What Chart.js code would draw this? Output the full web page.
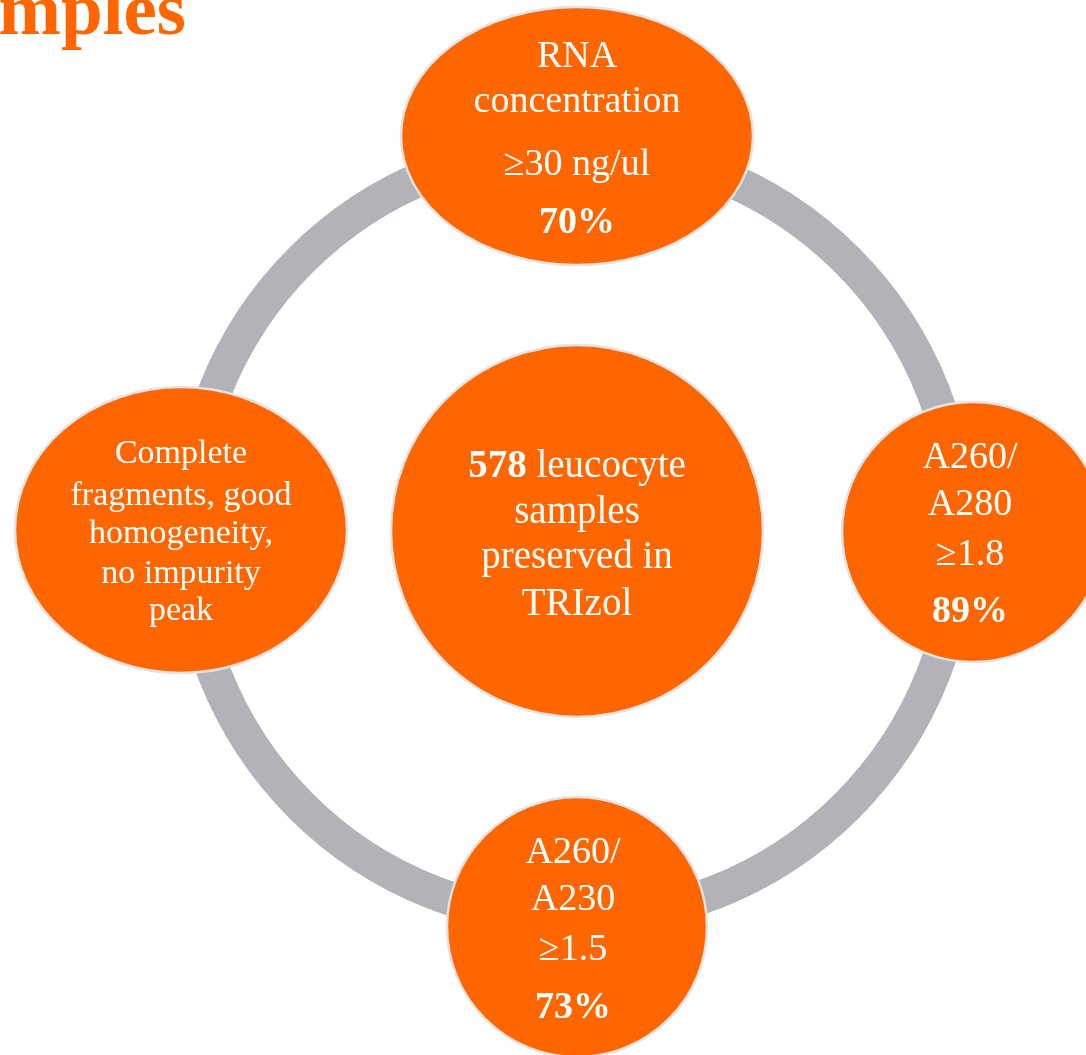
<!DOCTYPE html>
<html>
<head>
<meta charset="utf-8">
<title>RNA quality of leucocyte samples</title>
<script src="https://cdn.jsdelivr.net/npm/chart.js@4.4.1/dist/chart.umd.min.js"></script>
<style>
  html, body { margin: 0; padding: 0; background: #ffffff; }
  #wrap { position: relative; width: 1086px; height: 1055px; }
</style>
</head>
<body>
<div id="wrap"><canvas id="qcCycle"></canvas></div>
<script>
// QC criteria around the ring: top, right, bottom, left
const criterionLines = [
  ["RNA", "concentration"],
  ["A260/", "A280"],
  ["A260/", "A230"],
  ["Complete", "fragments, good", "homogeneity,", "no impurity", "peak"],
]
const thresholds = ["≥30 ng/ul", "≥1.8", "≥1.5", null]
const passRates = [70, 89, 73, null]

// centre node
const sampleCount = 578
const sampleLines = ["leucocyte", "samples", "preserved in", "TRIzol"]
const titleText = "samples"

// layout (canvas units), kept apart from the values above
const ringLayout = { x: 574, y: 533, r: 386, width: 34 }
const nodeLayout = [
  { x: 577, y: 136, rx: 176, ry: 129, size: 38, baselines: [-69, -24, 39, 97] },
  { x: 973, y: 532, rx: 131, ry: 130, size: 38, baselines: [-64, -17, 33, 90], textX: 970 },
  { x: 577, y: 927, rx: 130, ry: 130, size: 38, baselines: [-64, -17, 33, 91], textX: 573 },
  { x: 181, y: 530, rx: 166, ry: 143, size: 34, baselines: [-67, -25, 13, 53, 90] },
]
const centerLayout = { x: 577, y: 531, r: 186, size: 39, baselines: [-54, -8, 37, 84] }

const ORANGE = "#ff6600"
const RING_GREY = "#b1b3b9"
const EDGE = "#e3e3e3"
const SERIF = '"Liberation Serif", "Times New Roman", serif'

function ellipsePath(ctx, x, y, rx, ry) {
  ctx.beginPath()
  ctx.ellipse(x, y, rx, ry, 0, 0, Math.PI * 2)
  ctx.fillStyle = ORANGE
  ctx.fill()
  ctx.lineWidth = 2.5
  ctx.strokeStyle = EDGE
  ctx.stroke()
}

const cyclePlugin = {
  id: "cycle",
  beforeDatasetsDraw(chart) {
    const ctx = chart.ctx
    const sx = chart.scales.x
    const sy = chart.scales.y
    const cx = sx.getPixelForValue(ringLayout.x)
    const cy = sy.getPixelForValue(ringLayout.y)
    const r = sx.getPixelForValue(ringLayout.x + ringLayout.r) - cx
    ctx.save()
    ctx.beginPath()
    ctx.arc(cx, cy, r, 0, Math.PI * 2)
    ctx.lineWidth = ringLayout.width
    ctx.strokeStyle = RING_GREY
    ctx.stroke()
    ctx.restore()
  },
  afterDatasetsDraw(chart) {
    const ctx = chart.ctx
    const sx = chart.scales.x
    const sy = chart.scales.y
    const kx = sx.getPixelForValue(1) - sx.getPixelForValue(0)
    const ky = sy.getPixelForValue(1) - sy.getPixelForValue(0)

    ctx.save()
    ctx.textAlign = "center"
    ctx.textBaseline = "alphabetic"
    ctx.fillStyle = "#ffffff"

    // outer nodes
    const outer = chart.getDatasetMeta(0).data
    outer.forEach((el, i) => {
      const lay = nodeLayout[i]
      ellipsePath(ctx, el.x, el.y, lay.rx * kx, lay.ry * Math.abs(ky))
      const lines = criterionLines[i].map((t) => ({ t, bold: false }))
      if (thresholds[i]) lines.push({ t: thresholds[i], bold: false })
      if (passRates[i] != null) lines.push({ t: passRates[i] + "%", bold: true })
      const tx = lay.textX != null ? sx.getPixelForValue(lay.textX) : el.x
      lines.forEach((ln, j) => {
        ctx.font = (ln.bold ? "bold " : "") + lay.size + "px " + SERIF
        ctx.fillStyle = "#ffffff"
        ctx.fillText(ln.t, tx, el.y + lay.baselines[j] * Math.abs(ky))
      })
    })

    // centre node
    const c = chart.getDatasetMeta(1).data[0]
    ellipsePath(ctx, c.x, c.y, centerLayout.r * kx, centerLayout.r * Math.abs(ky))
    ctx.fillStyle = "#ffffff"
    const boldFont = "bold " + centerLayout.size + "px " + SERIF
    const normFont = centerLayout.size + "px " + SERIF
    sampleLines.forEach((t, j) => {
      const y = c.y + centerLayout.baselines[j] * Math.abs(ky)
      if (j === 0) {
        const head = String(sampleCount)
        const tail = " " + t
        ctx.font = boldFont
        const w1 = ctx.measureText(head).width
        ctx.font = normFont
        const w2 = ctx.measureText(tail).width
        const x0 = c.x - (w1 + w2) / 2
        ctx.textAlign = "left"
        ctx.font = boldFont
        ctx.fillText(head, x0, y)
        ctx.font = normFont
        ctx.fillText(tail, x0 + w1, y)
        ctx.textAlign = "center"
      } else {
        ctx.font = normFont
        ctx.fillText(t, c.x, y)
      }
    })

    // slide heading, runs off the left edge
    ctx.textAlign = "right"
    ctx.font = "bold 75px " + SERIF
    ctx.fillStyle = ORANGE
    ctx.fillText(titleText, sx.getPixelForValue(186), sy.getPixelForValue(34))
    ctx.restore()
  },
}

const ctxCycle = document.getElementById("qcCycle").getContext("2d")
const chartCycle = new Chart(ctxCycle, {
  type: "scatter",
  data: {
    datasets: [
      {
        label: "criteria",
        data: nodeLayout.map((n) => ({ x: n.x, y: n.y })),
        pointRadius: 0,
        pointHoverRadius: 0,
      },
      {
        label: "samples",
        data: [{ x: centerLayout.x, y: centerLayout.y }],
        pointRadius: 0,
        pointHoverRadius: 0,
      },
    ],
  },
  options: {
    responsive: true,
    maintainAspectRatio: false,
    animation: false,
    events: [],
    layout: { padding: 0 },
    scales: {
      x: { type: "linear", min: 0, max: 1086, display: false },
      y: { type: "linear", min: 0, max: 1055, reverse: true, display: false },
    },
    plugins: {
      legend: { display: false },
      tooltip: { enabled: false },
      title: { display: false },
    },
  },
  plugins: [cyclePlugin],
})
</script>
</body>
</html>
